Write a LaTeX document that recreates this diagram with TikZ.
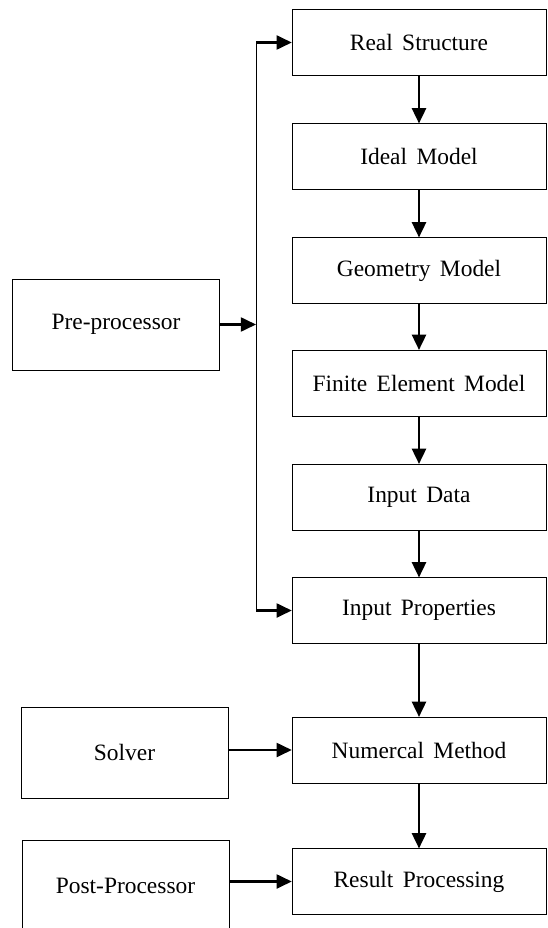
\documentclass[tikz,border=0pt]{standalone}
\usepackage{fontspec}
\setmainfont[WordSpace=1.6]{Liberation Serif}
\usetikzlibrary{arrows.meta,positioning}
\tikzset{>={Triangle[length=13pt,width=12pt]},line width=1.9pt,
  every node/.style={font=\fontsize{20}{24}\selectfont},
  stage/.style={draw,rectangle,minimum width=7.62cm,minimum height=1.97cm,inner sep=0pt},
  tool/.style={draw,rectangle,minimum width=6.2cm,minimum height=2.73cm,inner sep=0pt},
  flow/.style={->,line width=1.9pt}}

\begin{document}
\begin{tikzpicture}[x=0.03cm,y=-0.03cm]
\useasboundingbox (0,0) rectangle (547,928);
% main chain
\node[stage] (real) at (419,42.5) {Real Structure};
\node[stage] (ideal) at (419,156.5) {Ideal Model};
\node[stage] (geom) at (419,270.5) {Geometry Model};
\node[stage] (fem) at (419,383) {Finite Element Model};
\node[stage] (data) at (419,497) {Input Data};
\node[stage] (prop) at (419,610.5) {Input Properties};
\node[stage] (num) at (419,750) {Numercal Method};
\node[stage] (result) at (419,881.5) {Result Processing};
% side boxes
\node[tool] (pre) at (116,324.5) {Pre-processor};
\node[tool] (solver) at (124.5,752.5) {Solver};
\node[tool] (post) at (125.5,886) {Post-Processor};
\draw[flow] (real)--(ideal);
\draw[flow] (ideal)--(geom);
\draw[flow] (geom)--(fem);
\draw[flow] (fem)--(data);
\draw[flow] (data)--(prop);
\draw[flow] (prop)--(num);
\draw[flow] (num)--(result);
% pre-processor bus
\coordinate (bustop) at (256,42.5);
\coordinate (busbot) at (256,610.5);
\draw (bustop)--(busbot);
\draw[flow] (bustop)--(real.west);
\draw[flow] (busbot)--(prop.west);
\draw[flow] (pre.east)--(pre.east -| bustop);
\draw[flow] (solver.east |- num.west)--(num.west);
\draw[flow] (post.east |- result.west)--(result.west);
\end{tikzpicture}
\end{document}
